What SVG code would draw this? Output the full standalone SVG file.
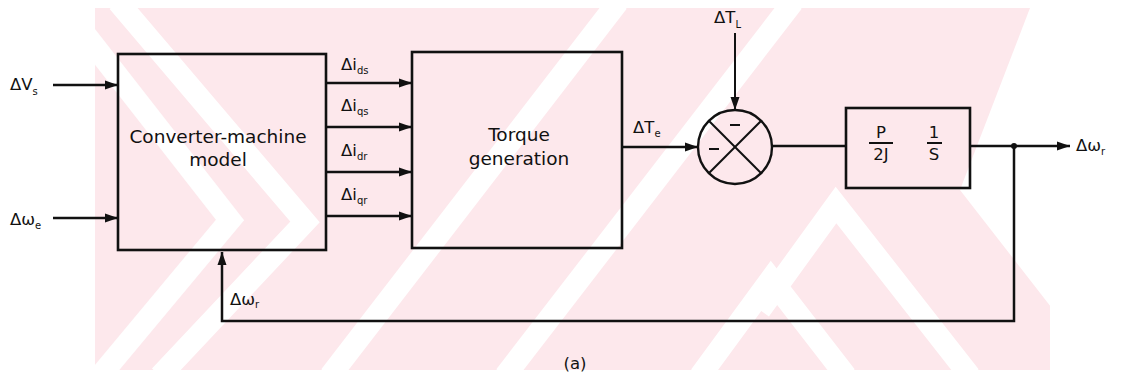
<svg xmlns="http://www.w3.org/2000/svg" width="1125" height="380" viewBox="0 0 1125 380">
<defs>
<marker id="ah" markerWidth="13" markerHeight="10" refX="13" refY="5" orient="auto" markerUnits="userSpaceOnUse">
<path d="M0,0.5 L13,5 L0,9.5 Z" fill="#111"/>
</marker>
<style>
.box{fill:none;stroke:#111;stroke-width:2.6}
.ln{fill:none;stroke:#111;stroke-width:2.5}
.thin{fill:none;stroke:#111;stroke-width:2}
.t{font-family:"DejaVu Sans","Liberation Sans",sans-serif;fill:#111;font-size:16.5px}
.s{font-family:"DejaVu Sans","Liberation Sans",sans-serif;fill:#111;font-size:10px}
.big{font-family:"DejaVu Sans","Liberation Sans",sans-serif;fill:#111;font-size:18.5px;text-anchor:middle}
.wm{fill:none;stroke:#ffffff;stroke-width:22}
</style>
</defs>
<rect x="0" y="0" width="1125" height="380" fill="#ffffff"/>
<g id="watermark">
<rect x="95" y="8" width="955" height="362" fill="#fde8ec"/>
<polyline class="wm" points="118,2 305,222 160,376"/>
<polyline class="wm" points="60,2 230,220 100,376"/>
<line class="wm" x1="330" y1="376" x2="618" y2="2"/>
<line class="wm" x1="505" y1="376" x2="793" y2="2"/>
<polyline class="wm" points="700,376 771,279 846,376"/>
<polyline class="wm" points="760,310 836,205 970,376"/>
<polygon points="1030,8 1125,8 1125,370 1100,370 960,190" fill="#ffffff"/>
</g>
<g id="connectors">
<line class="ln" x1="53" y1="85" x2="118" y2="85" marker-end="url(#ah)"/>
<line class="ln" x1="53" y1="218" x2="118" y2="218" marker-end="url(#ah)"/>
<line class="ln" x1="326" y1="83" x2="412" y2="83" marker-end="url(#ah)"/>
<line class="ln" x1="326" y1="127" x2="412" y2="127" marker-end="url(#ah)"/>
<line class="ln" x1="326" y1="172" x2="412" y2="172" marker-end="url(#ah)"/>
<line class="ln" x1="326" y1="216" x2="412" y2="216" marker-end="url(#ah)"/>
<line class="ln" x1="622" y1="147" x2="698" y2="147" marker-end="url(#ah)"/>
<line class="thin" x1="735" y1="33" x2="735" y2="110" marker-end="url(#ah)"/>
<line class="ln" x1="772" y1="146" x2="846" y2="146"/>
<line class="ln" x1="970" y1="146" x2="1070" y2="146" marker-end="url(#ah)"/>
<circle cx="1014" cy="146" r="3" fill="#111"/>
<polyline class="ln" points="1014,146 1014,321 222,321 222,252" marker-end="url(#ah)"/>
</g>
<g id="converter">
<rect class="box" x="118" y="54" width="208" height="196"/>
<text class="big" x="218" y="143">Converter-machine</text>
<text class="big" x="218" y="166">model</text>
</g>
<g id="torque">
<rect class="box" x="412" y="52" width="210" height="196"/>
<text class="big" x="519" y="141">Torque</text>
<text class="big" x="519" y="165">generation</text>
</g>
<g id="sum">
<circle cx="735" cy="147" r="37" fill="none" stroke="#111" stroke-width="2.4"/>
<line class="thin" x1="708.8" y1="120.8" x2="761.2" y2="173.2"/>
<line class="thin" x1="761.2" y1="120.8" x2="708.8" y2="173.2"/>
<line x1="730" y1="125" x2="740" y2="125" stroke="#111" stroke-width="2"/>
<line x1="709" y1="149" x2="719" y2="149" stroke="#111" stroke-width="2"/>
</g>
<g id="mech">
<rect class="box" x="846" y="108" width="124" height="80"/>
<text class="t" x="881" y="138" text-anchor="middle">P</text>
<line x1="869" y1="143" x2="893" y2="143" stroke="#111" stroke-width="2"/>
<text class="t" x="881" y="160" text-anchor="middle">2J</text>
<text class="t" x="934" y="138" text-anchor="middle">1</text>
<line x1="927" y1="143" x2="942" y2="143" stroke="#111" stroke-width="2"/>
<text class="t" x="934" y="160" text-anchor="middle">S</text>
</g>
<g id="labels">
<text class="t" x="10" y="90">ΔV<tspan class="s" dy="5">s</tspan></text>
<text class="t" x="10" y="225">Δω<tspan class="s" dy="4">e</tspan></text>
<text class="t" x="341" y="70">Δi<tspan class="s" dy="4">ds</tspan></text>
<text class="t" x="341" y="111">Δi<tspan class="s" dy="4">qs</tspan></text>
<text class="t" x="341" y="156">Δi<tspan class="s" dy="4">dr</tspan></text>
<text class="t" x="341" y="200">Δi<tspan class="s" dy="4">qr</tspan></text>
<text class="t" x="633" y="133">ΔT<tspan class="s" dy="4">e</tspan></text>
<text class="t" x="714" y="23">ΔT<tspan class="s" dy="5">L</tspan></text>
<text class="t" x="1076" y="151">Δω<tspan class="s" dy="4">r</tspan></text>
<text class="t" x="230" y="305">Δω<tspan class="s" dy="3">r</tspan></text>
<text class="t" x="575" y="369" text-anchor="middle">(a)</text>
</g>
</svg>
